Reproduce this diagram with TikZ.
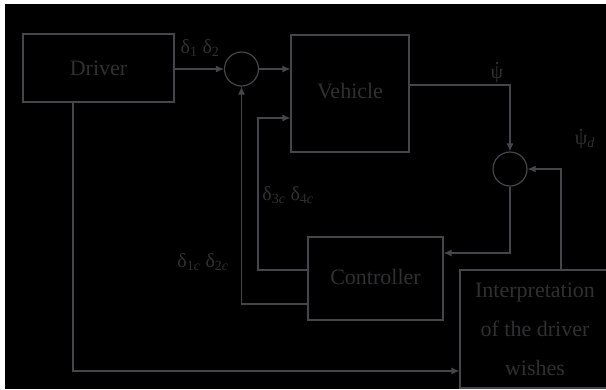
\documentclass[tikz,border=0pt]{standalone}
\usepackage{fontspec}
\setmainfont{Liberation Serif}
\usepackage{tikz}
\usetikzlibrary{arrows.meta,positioning}
\definecolor{linegray}{RGB}{70,70,74}
\definecolor{textgray}{RGB}{48,48,50}
\newcommand{\psidot}{\ooalign{ψ\cr\hidewidth\raisebox{0.66em}{.}\hidewidth\cr}}

\begin{document}
\begin{tikzpicture}[x=1pt,y=-1pt,>={Latex[length=8pt,width=7pt]},
  block/.style={draw=linegray,line width=1.2pt,text=textgray,inner sep=0pt,
    font=\fontsize{22}{39}\selectfont},
  sumnode/.style={circle,draw=linegray,line width=1.2pt,minimum size=34pt,inner sep=0pt},
  sig/.style={text=textgray,inner sep=0pt,font=\fontsize{20}{24}\selectfont},
  conn/.style={draw=linegray,line width=1.2pt,->}]
  \useasboundingbox (0,0) rectangle (606,389);
  \clip (0,0) rectangle (606,389);
  \fill[white] (0,0) rectangle (606,389);
  \fill[black] (5,4) rectangle (606,389);
  % blocks
  \node[block,minimum width=151pt,minimum height=68pt] (driver) at (98.5,68) {\raisebox{-4pt}{Driver}};
  \node[sumnode] (s1) at (241.5,69) {};
  \node[block,minimum width=118pt,minimum height=117pt] (vehicle) at (350,93.5) {\raisebox{5pt}{Vehicle}};
  \node[sumnode] (s2) at (510,169) {};
  \node[block,minimum width=135pt,minimum height=83pt] (ctrl) at (375.5,278.5) {\raisebox{4pt}{Controller}};
  \node[block,minimum width=150pt,minimum height=118pt,align=center] (interp) at (535,329)
    {Interpretation\\of the driver\\wishes};
  % bends
  \coordinate (v2) at (258,118);
  \coordinate (c1) at (ctrl.west |- 0,270);
  \coordinate (c2) at (ctrl.west |- 0,304);
  \coordinate (vo) at (vehicle.east |- 0,85);
  \coordinate (ci) at (ctrl.east |- 0,253);
  \coordinate (io) at (interp.north -| 561,0);
  \coordinate (dr) at (driver.south -| 73,0);
  \coordinate (ii) at (interp.west |- 0,371);
  % connections
  \draw[conn] (driver.east |- s1.west) -- (s1.west);
  \draw[conn] (s1.east) -- (vehicle.west |- s1.east);
  \draw[conn] (c1) -| (v2) -- (vehicle.west |- v2);
  \draw[conn] (c2) -| (s1.south);
  \draw[conn] (vo) -| (s2.north);
  \draw[conn] (s2.south) |- (ci);
  \draw[conn] (io) |- (s2.east);
  \draw[conn] (dr) |- (ii);
  % signals
  \node[sig] (d12) at (200,48) {δ\textsubscript{1} δ\textsubscript{2}};
  \node[sig] (d34) at (288,195) {δ\textsubscript{3\textit{c}} δ\textsubscript{4\textit{c}}};
  \node[sig] (d1c) at (203,262) {δ\textsubscript{1\textit{c}} δ\textsubscript{2\textit{c}}};
  \node[sig] (psi) at (497,72) {\psidot};
  \node[sig] (psid) at (585,140) {\psidot\textsubscript{\textit{d}}};
\end{tikzpicture}
\end{document}
